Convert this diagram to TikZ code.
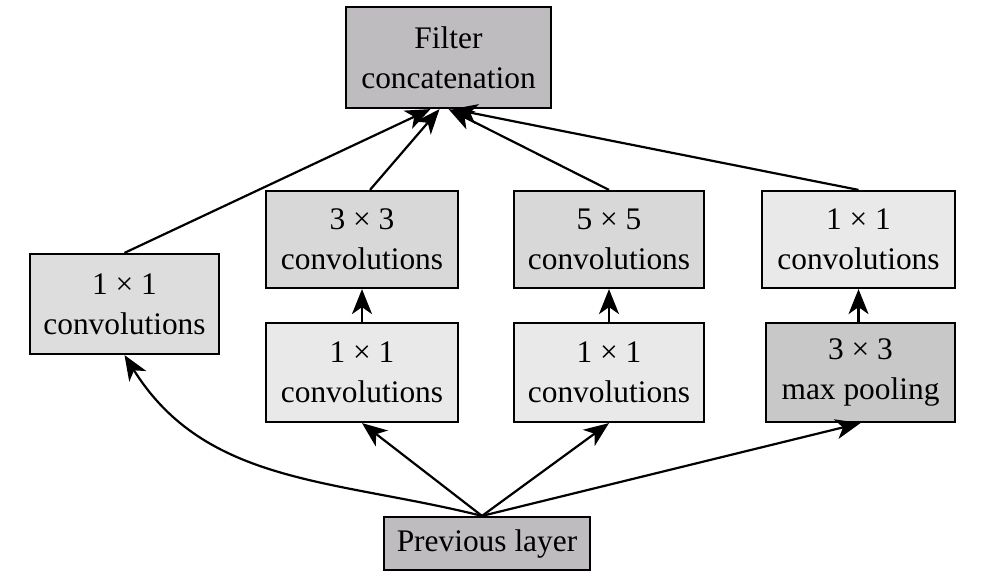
\documentclass[tikz,border=0pt]{standalone}
\usepackage{fontspec}
\setmainfont{Liberation Serif}
\usetikzlibrary{arrows.meta}

\definecolor{concatgray}{RGB}{190,188,190}
\definecolor{convgray}{RGB}{216,216,216}
\definecolor{leftgray}{RGB}{221,221,221}
\definecolor{reducegray}{RGB}{233,233,233}
\definecolor{poolgray}{RGB}{200,200,200}

\tikzset{
  layer/.style={draw, line width=1.1pt, inner sep=0pt, align=center,
    font=\fontsize{15.7}{20}\selectfont},
  flow/.style={line width=1.1pt, -{Stealth[length=12.5pt,width=10pt,inset=3.5pt]}}
}

\begin{document}
\begin{tikzpicture}[x=0.5pt,y=0.5pt]
    \useasboundingbox (0,0) rectangle (988,579);
    % Definitions:
    \node[layer, fill=concatgray, minimum width=102.5pt, minimum height=50.5pt] (concat) at (448.5,521.5) {Filter\\concatenation};
    \node[layer, fill=leftgray, minimum width=94.5pt, minimum height=50pt] (conv1) at (124.5,275) {1 × 1\\convolutions};
    \node[layer, fill=convgray, minimum width=96pt, minimum height=48.5pt] (conv3) at (362,339.5) {3 × 3\\convolutions};
    \node[layer, fill=convgray, minimum width=95pt, minimum height=48.5pt] (conv5) at (609,339.5) {5 × 5\\convolutions};
    \node[layer, fill=reducegray, minimum width=96.5pt, minimum height=48.5pt] (poolproj) at (858.5,339.5) {1 × 1\\convolutions};
    \node[layer, fill=reducegray, minimum width=96pt, minimum height=49.5pt] (reduce3) at (362,206.5) {1 × 1\\convolutions};
    \node[layer, fill=reducegray, minimum width=95pt, minimum height=49.5pt] (reduce5) at (609,206.5) {1 × 1\\convolutions};
    \node[layer, fill=poolgray, minimum width=94.5pt, minimum height=49.5pt] (maxpool) at (860.5,206.5) {3 × 3\\max pooling};
    \node[layer, fill=concatgray, minimum width=103pt, minimum height=26.5pt] (prev) at (487,35.5) {Previous layer};
    \coordinate (src) at ([xshift=-2.5pt]prev.north);
    % Drawing:
    \draw[flow] (src) to[out=166,in=-58] (conv1.south);
    \draw[flow] (src) -- (reduce3.south);
    \draw[flow] (src) -- (reduce5.south);
    \draw[flow] (src) -- (maxpool.south);
    \draw[flow] (reduce3) -- (conv3);
    \draw[flow] (reduce5) -- (conv5);
    \draw[flow] (maxpool.north -| poolproj.south) -- (poolproj.south);
    \draw[flow] (conv1.north) -- ([xshift=-9pt]concat.south);
    \draw[flow] ([xshift=4pt]conv3.north) -- ([xshift=-4.5pt]concat.south);
    \draw[flow] (conv5.north) -- (concat.south);
    \draw[flow] (poolproj.north) -- ([xshift=2pt]concat.south);
\end{tikzpicture}
\end{document}
